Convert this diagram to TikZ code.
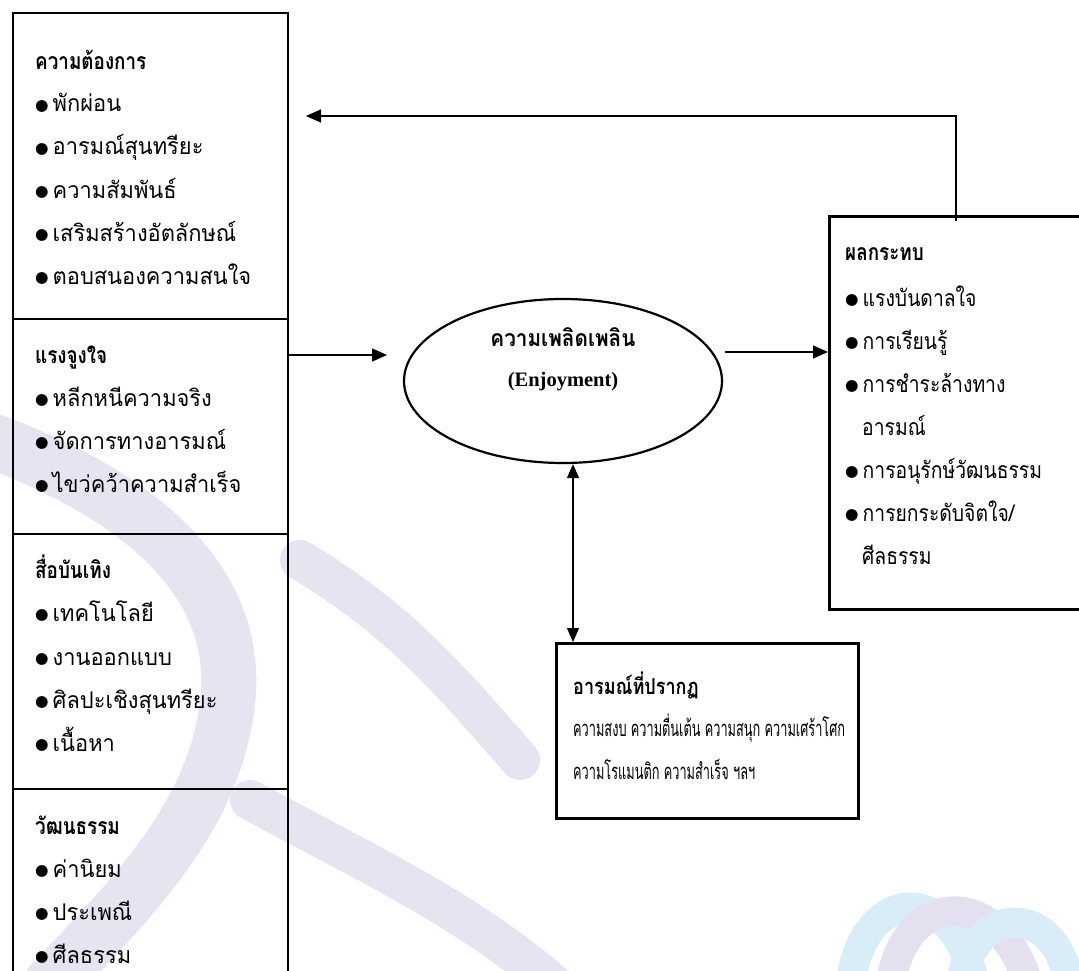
\documentclass[tikz,border=0pt]{standalone}
\usepackage{fontspec}
\setmainfont{Liberation Serif}
\newfontfamily\thaiItem[Script=Thai, FakeStretch=0.95]{Loma}
\newfontfamily\thaiOut[Script=Thai, FakeStretch=0.84]{Loma}
\newfontfamily\thaiHead[Script=Thai, FakeStretch=0.82]{Loma}
\newfontfamily\thaiEmo[Script=Thai, FakeStretch=0.58]{Loma}
\newfontfamily\thaiEll[Script=Thai, FakeStretch=0.9]{Loma}
\newfontfamily\dejavu{DejaVu Sans}
\usetikzlibrary{shapes.geometric,arrows.meta}

\definecolor{wmlav}{RGB}{229,224,240}
\definecolor{wmblue}{RGB}{216,237,247}

\tikzset{
  sect/.style={draw, line width=1.6pt, rectangle, anchor=north west, inner sep=0pt},
  thick box/.style={draw, line width=2.6pt, rectangle, anchor=north west, inner sep=0pt},
  head/.style={anchor=base west, inner sep=0pt, font=\thaiHead\bfseries\fontsize{23}{23}\selectfont},
  item/.style={anchor=base west, inner sep=0pt, font=\thaiItem\fontsize{23}{23}\selectfont},
  outitem/.style={anchor=base west, inner sep=0pt, font=\thaiOut\fontsize{23}{23}\selectfont},
  emohead/.style={anchor=base west, inner sep=0pt, font=\thaiHead\bfseries\fontsize{22}{22}\selectfont},
  emoline/.style={anchor=base west, inner sep=0pt, font=\thaiEmo\fontsize{22}{22}\selectfont},
  arr/.style={line width=1.3pt, -{Triangle[length=15pt,width=13pt]}},
  dblarr/.style={line width=1.1pt, {Triangle[length=14pt,width=12pt]}-{Triangle[length=14pt,width=12pt]}},
  wm/.style={line width=55pt, line cap=round, opacity=0.9},
}
\newcommand\bul{\raisebox{1.5pt}{\dejavu\fontsize{15.5}{15.5}\selectfont ●}\hspace{4pt}}

\begin{document}
\begin{tikzpicture}[x=1pt,y=-1pt]
\useasboundingbox (0,0) rectangle (1079,971);
\clip (0,0) rectangle (1079,971);

% faint logo in the background
\draw[wm, wmlav] (-10,440) .. controls (150,500) and (250,590) .. (225,720)
  .. controls (205,830) and (120,910) .. (50,985);
\draw[wm, wmlav, line width=40pt] (250,800) .. controls (360,860) and (470,910) .. (560,990);
\draw[wm, wmlav, line width=40pt] (300,560) .. controls (400,620) and (450,680) .. (520,760);
\begin{scope}[line width=30pt, line cap=butt]
  \draw[wmblue] (850,990) .. controls (860,880) and (960,880) .. (975,990);
  \draw[wmlav] (890,990) .. controls (900,890) and (1000,880) .. (1030,990);
  \draw[wmblue] (960,990) .. controls (970,900) and (1060,900) .. (1070,990);
\end{scope}

% left column of factors
\node[sect, minimum width=275pt, minimum height=306pt] (s1) at (12,12) {};
\node[sect, minimum width=275pt, minimum height=215pt] (s2) at (12,318) {};
\node[sect, minimum width=275pt, minimum height=255pt] (s3) at (12,533) {};
\node[sect, minimum width=275pt, minimum height=230pt] (s4) at (12,788) {};

\node[head] (h1) at (35,70) {ความต้องการ};
\node[item] (i11) at (35,112) {\bul พักผ่อน};
\node[item] (i12) at (35,155) {\bul อารมณ์สุนทรียะ};
\node[item] (i13) at (35,198) {\bul ความสัมพันธ์};
\node[item] (i14) at (35,241) {\bul เสริมสร้างอัตลักษณ์};
\node[item] (i15) at (35,284) {\bul ตอบสนองความสนใจ};

\node[head] (h2) at (35,363) {แรงจูงใจ};
\node[item] (i21) at (35,406) {\bul หลีกหนีความจริง};
\node[item] (i22) at (35,449) {\bul จัดการทางอารมณ์};
\node[item] (i23) at (35,492) {\bul ไขว่คว้าความสำเร็จ};

\node[head] (h3) at (35,578) {สื่อบันเทิง};
\node[item] (i31) at (35,621) {\bul เทคโนโลยี};
\node[item] (i32) at (35,665) {\bul งานออกแบบ};
\node[item] (i33) at (35,708) {\bul ศิลปะเชิงสุนทรียะ};
\node[item] (i34) at (35,751) {\bul เนื้อหา};

\node[head] (h4) at (35,834) {วัฒนธรรม};
\node[item] (i41) at (35,877) {\bul ค่านิยม};
\node[item] (i42) at (35,920) {\bul ประเพณี};
\node[item] (i43) at (35,963) {\bul ศีลธรรม};

% central construct
\node[draw, ellipse, line width=2.2pt, minimum width=318pt, minimum height=164pt, inner sep=0pt] (em) at (563,381) {};
\node[inner sep=0pt, font=\thaiEll\bfseries\fontsize{23}{23}\selectfont] (t1) at (563,337) {ความเพลิดเพลิน};
\node[inner sep=0pt, font=\bfseries\fontsize{20.5}{20.5}\selectfont] (t2) at (563,382) {(Enjoyment)};

% outcomes
\node[thick box, minimum width=280pt, minimum height=393pt] (rb) at (828,215) {};
\node[head] (rh) at (845,260) {ผลกระทบ};
\node[outitem] (r1) at (845,306) {\bul แรงบันดาลใจ};
\node[outitem] (r2) at (845,349) {\bul การเรียนรู้};
\node[outitem] (r3) at (845,392) {\bul การชำระล้างทาง};
\node[outitem] (r3b) at (862,435) {อารมณ์};
\node[outitem] (r4) at (845,478) {\bul การอนุรักษ์วัฒนธรรม};
\node[outitem] (r5) at (845,521) {\bul การยกระดับจิตใจ/};
\node[outitem] (r5b) at (862,564) {ศีลธรรม};

% emotions that appear
\node[thick box, minimum width=302pt, minimum height=175pt] (emo) at (555,642) {};
\node[emohead] (eh) at (573,694) {อารมณ์ที่ปรากฏ};
\node[emoline] (e1) at (573,736) {ความสงบ ความตื่นเต้น ความสนุก ความเศร้าโศก};
\node[emoline] (e2) at (573,779) {ความโรแมนติก ความสำเร็จ ฯลฯ};

% connectors
\coordinate (a1) at (387,355);
\coordinate (a2) at (725,352);
\coordinate (dx) at (573,0);
\coordinate (fbx) at (956,0);
\coordinate (fbtip) at (306,116);

\draw[arr] (s2.east |- a1) -- (a1);
\draw[arr] (a2) -- (rb.west |- a2);
\draw[dblarr] (em.south -| dx) -- (emo.north -| dx);
\draw[arr] ([yshift=-6pt]rb.north -| fbx) -- (fbx |- fbtip) -- (fbtip);
\end{tikzpicture}
\end{document}
